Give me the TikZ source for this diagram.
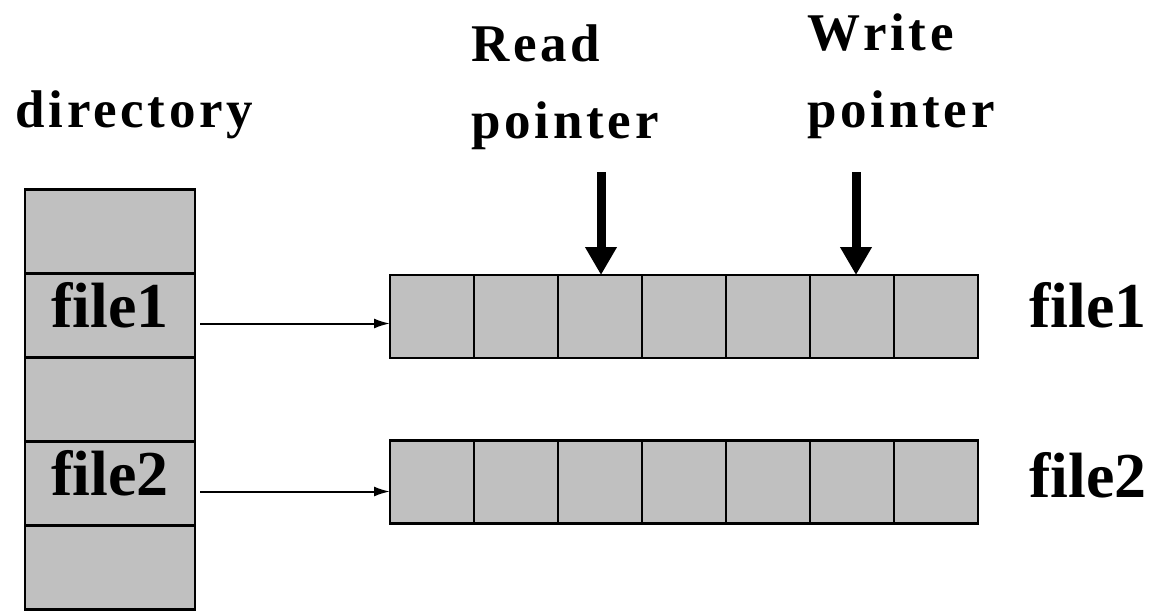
\documentclass[tikz,border=0pt]{standalone}
\usepackage{fontspec}
\setmainfont{Liberation Serif}
\usetikzlibrary{arrows.meta}
\definecolor{cellgray}{RGB}{192,192,192}
\tikzset{
  cell/.style={draw, fill=cellgray, line width=1.3pt, outer sep=0pt, inner sep=0pt},
  dircell/.style={cell, minimum width=85pt, minimum height=42pt,
    font=\bfseries\fontsize{32}{36}\selectfont, text depth=11pt},
  blockcell/.style={cell, minimum width=42pt, minimum height=41.5pt},
  head/.style={font=\bfseries\fontsize{26.5}{38.5}\selectfont\addfontfeature{LetterSpace=7},
    inner sep=0pt, align=left, anchor=north west},
  fname/.style={font=\bfseries\fontsize{32}{36}\selectfont, inner sep=0pt, anchor=base},
  link/.style={-{Latex[length=8pt,width=5pt]}, line width=1pt, shorten <=2.5pt},
  ptr/.style={-{Triangle[length=14pt,width=15pt]}, line width=4.5pt},
}
\begin{document}
\begin{tikzpicture}[x=0.5pt, y=-0.5pt]
      \useasboundingbox (0,0) rectangle (1152,612);
      \draw
        (15,127) node[head, anchor=base west] (dir){directory}
        (471,24) node[head] (read){Read\\pointer}
        (807,13) node[head] (write){Write\\pointer}
        (110,231.5) node[dircell] (d1){}
        (110,315.5) node[dircell] (d2){file1}
        (110,399.5) node[dircell] (d3){}
        (110,483.5) node[dircell] (d4){file2}
        (110,567.5) node[dircell] (d5){}
        (432,316.5) node[blockcell] (a1){}
        (516,316.5) node[blockcell] (a2){}
        (600,316.5) node[blockcell] (a3){}
        (684,316.5) node[blockcell] (a4){}
        (768,316.5) node[blockcell] (a5){}
        (852,316.5) node[blockcell] (a6){}
        (936,316.5) node[blockcell] (a7){}
        (432,482) node[blockcell] (b1){}
        (516,482) node[blockcell] (b2){}
        (600,482) node[blockcell] (b3){}
        (684,482) node[blockcell] (b4){}
        (768,482) node[blockcell] (b5){}
        (852,482) node[blockcell] (b6){}
        (936,482) node[blockcell] (b7){}
        (1088,327) node[fname] (f1){file1}
        (1088,497) node[fname] (f2){file2};
      \coordinate (rp) at (601,172);
      \coordinate (wp) at (856,172);
      \begin{scope}[link]
        \draw ([yshift=-4pt]d2.east) to ([yshift=-4pt]d2.east -| a1.west);
        \draw ([yshift=-4pt]d4.east) to ([yshift=-4pt]d4.east -| b1.west);
      \end{scope}
      \begin{scope}[ptr]
        \draw (rp) to (rp |- a3.north);
        \draw (wp) to (wp |- a6.north);
      \end{scope}
    \end{tikzpicture}
\end{document}
